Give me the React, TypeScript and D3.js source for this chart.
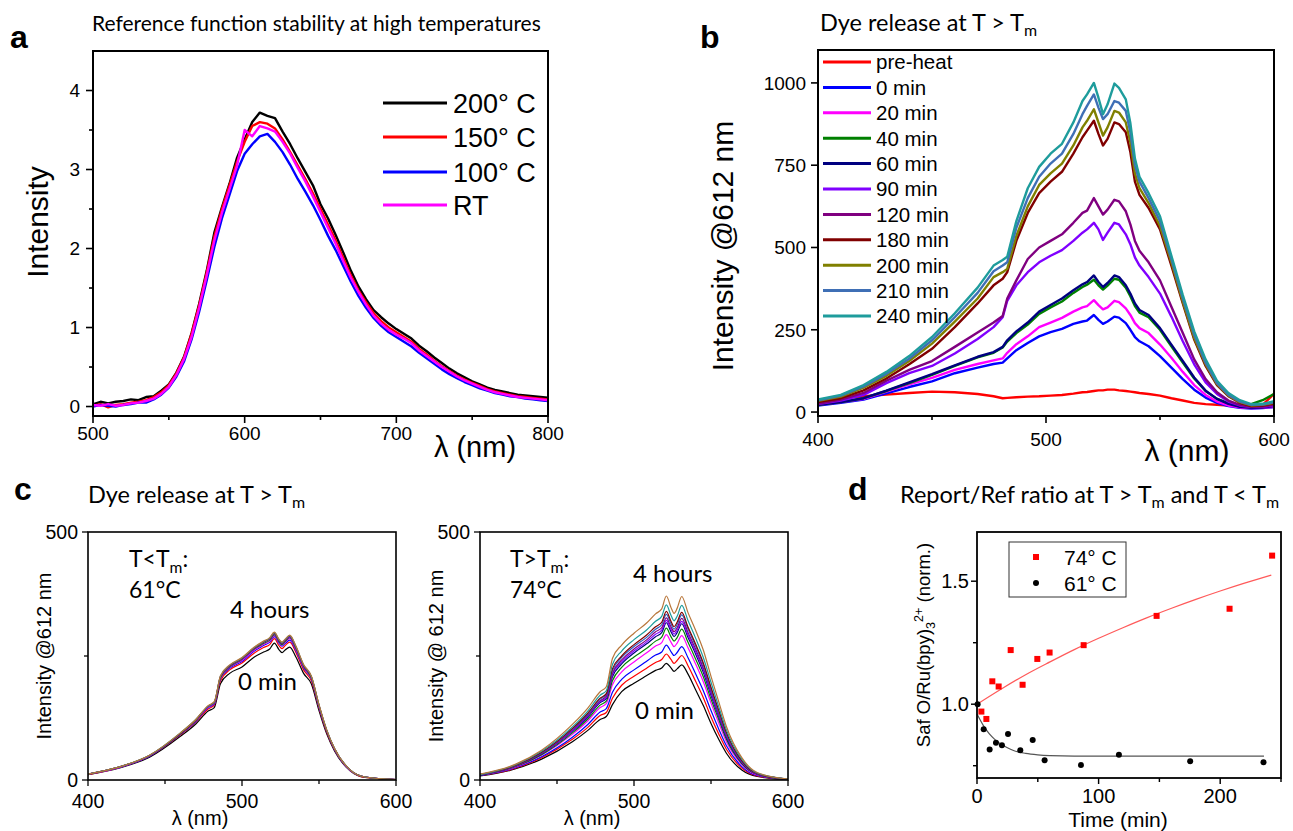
import React from "react";
import * as d3 from "d3";

const SANS = "'Liberation Sans', Arial, Helvetica, sans-serif";
const CAL = "Lato, 'Open Sans', 'DejaVu Sans', sans-serif";

// ---------------- Panel a data ----------------
const A_WL = [500,505,510,515,520,525,530,535,540,545,550,555,560,565,570,575,580,585,590,595,600,605,610,615,620,625,630,635,640,645,650,655,660,665,670,675,680,685,690,695,700,705,710,715,720,725,730,735,740,745,750,755,760,765,770,775,780,785,790,795,800];
const A_200C = [0.03,0.06,0.04,0.06,0.07,0.09,0.08,0.12,0.13,0.2,0.28,0.43,0.63,0.93,1.3,1.72,2.2,2.52,2.82,3.15,3.38,3.6,3.72,3.68,3.65,3.48,3.32,3.14,2.97,2.8,2.56,2.38,2.17,1.95,1.72,1.52,1.36,1.22,1.13,1.05,0.98,0.92,0.86,0.77,0.7,0.62,0.55,0.48,0.42,0.37,0.32,0.28,0.24,0.21,0.19,0.17,0.15,0.14,0.13,0.12,0.11];
const A_150C = [0.01,0.03,-0.01,0.02,0.03,0.05,0.06,0.08,0.12,0.18,0.27,0.42,0.62,0.92,1.28,1.7,2.15,2.5,2.8,3.1,3.35,3.55,3.6,3.58,3.52,3.38,3.22,3.05,2.88,2.7,2.5,2.3,2.1,1.88,1.66,1.47,1.32,1.18,1.08,1.0,0.94,0.88,0.82,0.73,0.66,0.58,0.51,0.45,0.39,0.34,0.3,0.26,0.22,0.19,0.17,0.15,0.13,0.12,0.11,0.1,0.09];
const A_100C = [0.0,0.02,0.01,0.0,0.02,0.03,0.05,0.05,0.09,0.15,0.24,0.38,0.57,0.85,1.2,1.6,2.02,2.38,2.68,2.98,3.2,3.32,3.42,3.45,3.35,3.22,3.06,2.88,2.72,2.55,2.36,2.16,1.98,1.78,1.58,1.4,1.25,1.12,1.02,0.94,0.88,0.82,0.76,0.68,0.61,0.54,0.47,0.41,0.36,0.31,0.27,0.23,0.2,0.17,0.15,0.13,0.12,0.1,0.09,0.08,0.07];
const A_RT = [0.02,0.01,0.03,0.01,0.02,0.04,0.05,0.07,0.1,0.16,0.25,0.4,0.6,0.88,1.25,1.66,2.1,2.45,2.75,3.05,3.5,3.42,3.55,3.52,3.48,3.35,3.2,3.02,2.85,2.66,2.46,2.26,2.06,1.84,1.63,1.45,1.29,1.15,1.05,0.97,0.91,0.86,0.8,0.71,0.64,0.57,0.5,0.44,0.38,0.33,0.29,0.25,0.21,0.18,0.16,0.14,0.12,0.11,0.1,0.09,0.08];
const A_NAMES = ["200° C", "150° C", "100° C", "RT"];
const A_COLORS = ["#000000", "#ff0000", "#0000ff", "#ff00ff"];
const A_XTICKS = [500, 600, 700, 800];
const A_XMINOR = [550, 650, 750];
const A_YTICKS = [0, 1, 2, 3, 4];
const A_YMINOR = [0.5, 1.5, 2.5, 3.5];

// ---------------- Panel b data ----------------
const B_WL = [400,410,420,430,440,450,460,470,477,481,483,487,492,497,502,507,512,516,518,521,523,525,527,530,532,535,537,539,541,545,550,555,560,565,570,575,580,585,590,595,600];
const B_PRE = [35,42,48,53,58,62,60,55,48,42,43,45,47,48,50,52,56,60,61,64,66,66,68,68,66,64,62,60,58,55,50,42,35,28,24,22,20,18,17,22,55];
const B_0 = [20,28,38,57,76,93,118,135,146,150,163,188,210,230,243,253,268,275,278,295,280,268,275,290,287,270,250,228,215,200,170,135,100,68,44,28,18,13,11,12,15];
const B_20 = [22,30,40,62,84,104,128,146,157,163,180,206,230,258,272,286,305,318,322,340,325,312,318,338,334,315,295,270,255,240,205,165,122,82,52,32,20,14,12,13,16];
const B_40 = [22,30,42,64,88,113,140,166,180,196,214,240,266,298,318,336,362,380,387,402,385,372,384,405,402,378,352,322,302,288,250,200,150,102,64,40,27,22,24,36,55];
const B_60 = [22,30,42,65,90,115,142,168,182,198,218,245,272,305,325,345,370,388,395,415,395,380,392,415,410,385,360,330,310,295,255,205,155,105,65,40,25,16,13,14,18];
const B_90 = [24,35,52,88,118,140,178,222,258,288,338,385,425,455,475,492,520,545,555,575,555,523,545,575,570,540,510,470,445,410,360,290,215,145,90,55,32,20,15,16,20];
const B_120 = [25,38,58,95,128,155,198,242,272,292,345,400,465,500,520,540,575,605,612,650,625,600,615,645,640,610,570,520,490,455,400,320,240,160,100,60,35,22,16,17,22];
const B_180 = [30,42,66,102,145,192,258,330,385,405,425,520,605,665,700,730,785,835,855,885,845,810,830,880,875,850,790,700,660,620,555,445,330,220,140,82,48,28,18,20,26];
const B_200 = [34,47,74,110,155,208,275,345,410,425,435,535,625,690,725,755,810,865,885,920,880,840,865,915,910,880,820,725,680,635,565,455,335,225,145,85,50,30,20,22,28];
const B_210 = [36,50,78,116,162,218,288,362,428,445,455,560,650,715,755,785,845,905,930,965,925,890,905,945,940,915,850,750,700,650,580,465,345,235,150,88,52,32,22,23,30];
const B_240 = [38,52,82,122,170,228,300,378,445,462,472,580,680,745,785,815,880,945,965,1000,955,905,935,998,985,950,878,770,715,665,595,475,355,245,160,95,58,36,24,25,33];
const B_NAMES = ["pre-heat", "0 min", "20 min", "40 min", "60 min", "90 min", "120 min", "180 min", "200 min", "210 min", "240 min"];
const B_COLORS = ["#ff0000", "#0000ff", "#ff00ff", "#008000", "#000080", "#8000ff", "#800080", "#800000", "#808000", "#3f6fb5", "#1e9c9c"];
const B_XTICKS = [400, 500, 600];
const B_XMINOR = [450, 550];
const B_YTICKS = [0, 250, 500, 750, 1000];

// ---------------- Panel c data ----------------
const C_WL = [400,420,440,460,470,478,482,486,492,500,508,514,518,521,524,526,528,531,535,540,545,550,555,560,570,580,600];
// c (right) T > Tm, 74 °C
const CR_0 = [8,20,42,77,100,122,128,152,178,195,210,221,226,235,226,219,224,232,214,182,150,114,82,54,20,7,1];
const CR_1 = [9,21,45,82,106,130,136,165,191,209,225,237,243,254,243,235,241,251,231,199,166,127,93,62,24,8,1];
const CR_2 = [9,22,47,86,112,137,144,177,203,222,239,252,258,272,259,251,257,269,247,214,180,140,103,69,27,9,1];
const CR_3 = [10,23,50,92,119,146,154,192,218,238,256,270,277,293,278,269,276,291,267,234,198,155,115,77,31,10,1];
const CR_4 = [10,24,51,95,123,151,159,200,227,248,265,280,288,306,289,280,287,304,278,244,208,163,122,82,33,11,1];
const CR_5 = [10,25,53,98,127,156,164,208,234,256,274,289,297,317,299,289,297,315,288,254,217,171,128,86,35,12,2];
const CR_6 = [11,25,54,99,129,158,166,212,238,260,278,294,302,322,304,294,302,320,293,259,222,175,131,89,36,12,2];
const CR_7 = [11,25,54,101,131,160,169,215,242,264,282,299,307,327,309,299,307,326,298,264,226,179,134,91,37,12,2];
const CR_8 = [11,26,55,103,133,163,172,220,247,269,287,304,313,334,315,304,313,333,305,270,232,183,137,93,38,13,2];
const CR_9 = [11,26,56,104,135,165,174,224,250,273,292,309,318,340,320,309,318,338,309,274,236,187,141,96,39,13,2];
const CR_10 = [11,27,58,107,139,171,180,233,260,283,302,320,330,353,332,321,330,352,322,286,247,197,148,101,42,14,2];
const CR_11 = [12,28,60,112,145,178,188,245,272,296,316,335,345,371,348,336,346,370,338,302,262,209,158,108,45,15,2];
const CR_COLORS = ["#000000", "#ff0000", "#0000ff", "#ff00ff", "#008000", "#000080", "#8000ff", "#800080", "#2f5fc0", "#800000", "#1e9c9c", "#b8763a"];
// c (left) T < Tm, 61 °C
const CL_0 = [11,24,46,88,113,139,146,194,215,228,248,258,264,276,263,257,262,268,248,215,194,140,93,59,19,5,1];
const CL_1 = [11,25,48,91,117,143,151,200,222,236,256,267,273,285,271,265,271,278,257,222,200,145,96,61,20,5,1];
const CL_2 = [12,25,48,92,118,146,153,204,225,239,260,271,278,289,276,270,275,282,261,226,204,147,98,62,20,6,1];
const CL_3 = [12,25,49,93,119,147,154,205,227,241,262,273,280,291,278,272,277,285,263,228,205,148,99,63,20,6,1];
const CL_4 = [12,26,49,93,120,148,155,206,228,243,264,275,282,293,279,273,279,287,265,229,206,149,99,63,21,6,1];
const CL_5 = [12,26,49,94,121,148,156,208,229,244,265,277,284,295,281,275,281,288,267,230,208,150,100,63,21,6,1];
const CL_6 = [12,26,50,94,121,149,157,208,230,245,266,278,285,296,282,276,282,290,268,231,208,151,100,64,21,6,1];
const CL_7 = [12,26,50,95,122,149,157,209,231,246,267,279,286,297,283,277,283,291,269,232,209,151,101,64,21,6,1];
const CL_8 = [12,26,50,95,122,150,158,210,232,247,268,280,287,298,284,278,284,292,270,233,210,152,101,64,21,6,1];
const CL_COLORS = ["#000000", "#ff0000", "#0000ff", "#ff00ff", "#008000", "#8000ff", "#800000", "#1e9c9c", "#b8763a"];
const C_XTICKS = [400, 500, 600];
const C_XMINOR = [450, 550];
const C_YTICKS = [0, 500];
const C_YMINOR = [250];

// ---------------- Panel d data ----------------
const D74_T = [3.6, 7.7, 12.6, 17.8, 27.7, 37.5, 49.6, 59.7, 87.7, 147.7, 207.7, 242.7];
const D74_R = [0.97, 0.94, 1.093, 1.072, 1.22, 1.079, 1.184, 1.21, 1.24, 1.359, 1.388, 1.604];
const D61_T = [0.5, 5.5, 10.4, 15.6, 20.5, 25.5, 35.6, 45.8, 55.6, 85.5, 116.7, 175.3, 235.6];
const D61_R = [1.0, 0.898, 0.816, 0.843, 0.833, 0.879, 0.813, 0.854, 0.772, 0.753, 0.795, 0.768, 0.764];
const FIT74_T = [0, 20, 40, 60, 80, 100, 120, 140, 160, 180, 200, 220, 242];
const FIT74_R = [1.0, 1.062, 1.12, 1.172, 1.222, 1.268, 1.311, 1.352, 1.39, 1.426, 1.46, 1.492, 1.525];
const FIT61_T = [0, 5, 10, 15, 20, 25, 30, 40, 50, 60, 80, 100, 150, 200, 236];
const FIT61_R = [0.96, 0.915, 0.88, 0.855, 0.837, 0.823, 0.812, 0.8, 0.794, 0.791, 0.789, 0.789, 0.789, 0.789, 0.789];
const D_XTICKS = [0, 100, 200];
const D_XMINOR = [50, 150, 250];
const D_YTICKS = [1.0, 1.5];
const D_YMINOR = [0.75, 1.25];

type Lin = d3.ScaleLinear<number, number>;

function Axes(p: {
  x: Lin; y: Lin; xTicks: number[]; xMinor: number[]; yTicks: number[]; yMinor: number[];
  xFmt: (v: number) => string; yFmt: (v: number) => string; fs: number;
  xLabY: number; yLabGap: number; major: number; minor: number; sw: number;
}) {
  const [x0, x1] = p.x.range();
  const [y0, y1] = p.y.range();
  return (
    <g fontFamily={SANS} fontSize={p.fs} fill="#000">
      <rect x={x0} y={y1} width={x1 - x0} height={y0 - y1} fill="none" stroke="#000" strokeWidth={p.sw} />
      {p.xTicks.map((t) => (
        <g key={"xt" + t}>
          <line x1={p.x(t)} x2={p.x(t)} y1={y0} y2={y0 + p.major} stroke="#000" strokeWidth={p.sw * 0.8} />
          <text x={p.x(t)} y={p.xLabY} textAnchor="middle">{p.xFmt(t)}</text>
        </g>
      ))}
      {p.xMinor.map((t) => (
        <line key={"xm" + t} x1={p.x(t)} x2={p.x(t)} y1={y0} y2={y0 + p.minor} stroke="#000" strokeWidth={p.sw * 0.8} />
      ))}
      {p.yTicks.map((t) => (
        <g key={"yt" + t}>
          <line x1={x0 - p.major} x2={x0} y1={p.y(t)} y2={p.y(t)} stroke="#000" strokeWidth={p.sw * 0.8} />
          <text x={x0 - p.yLabGap} y={p.y(t)} dy="0.36em" textAnchor="end">{p.yFmt(t)}</text>
        </g>
      ))}
      {p.yMinor.map((t) => (
        <line key={"ym" + t} x1={x0 - p.minor} x2={x0} y1={p.y(t)} y2={p.y(t)} stroke="#000" strokeWidth={p.sw * 0.8} />
      ))}
    </g>
  );
}

function path(xs: number[], ys: number[], x: Lin, y: Lin, curve: d3.CurveFactory) {
  const n = Math.min(xs.length, ys.length);
  const pts: [number, number][] = [];
  for (let i = 0; i < n; i++) pts.push([x(xs[i]), y(ys[i])]);
  return d3.line().curve(curve)(pts) || "";
}

function PanelA() {
  const x = d3.scaleLinear().domain([500, 800]).range([93, 548]);
  const y = d3.scaleLinear().domain([-0.12, 4.5]).range([416, 51]);
  const series = [A_200C, A_150C, A_100C, A_RT];
  const legY = [103, 137, 172, 205];
  return (
    <g>
      <defs>
        <clipPath id="clipA"><rect x={93} y={51} width={455} height={365} /></clipPath>
      </defs>
      <g clipPath="url(#clipA)">
        {series.map((s, i) => (
          <path key={i} d={path(A_WL, s, x, y, d3.curveLinear)} fill="none" stroke={A_COLORS[i]} strokeWidth={2.4} strokeLinejoin="round" />
        ))}
      </g>
      <Axes x={x} y={y} xTicks={A_XTICKS} xMinor={A_XMINOR} yTicks={A_YTICKS} yMinor={A_YMINOR}
        xFmt={(v) => String(v)} yFmt={(v) => String(v)} fs={19} xLabY={440} yLabGap={13} major={7} minor={4} sw={2} />
      {A_NAMES.map((n, i) => (
        <g key={n}>
          <line x1={383} x2={447} y1={legY[i]} y2={legY[i]} stroke={A_COLORS[i]} strokeWidth={3} />
          <text x={453} y={legY[i]} dy="0.36em" fontFamily={SANS} fontSize={27}>{n}</text>
        </g>
      ))}
      <text transform="translate(37,222) rotate(-90)" textAnchor="middle" dy="0.36em" fontFamily={SANS} fontSize={30}>Intensity</text>
      <text x={475} y={457} textAnchor="middle" fontFamily={SANS} fontSize={29}>λ (nm)</text>
      <text x={92} y={31} fontFamily={CAL} fontSize={21}>Reference function stability at high temperatures</text>
      <text x={10} y={48} fontFamily={SANS} fontWeight="bold" fontSize={32}>a</text>
    </g>
  );
}

function PanelB() {
  const x = d3.scaleLinear().domain([400, 600]).range([818, 1274]);
  const y = d3.scaleLinear().domain([-12, 1100]).range([416, 50]);
  const series = [B_PRE, B_0, B_20, B_40, B_60, B_90, B_120, B_180, B_200, B_210, B_240];
  return (
    <g>
      <defs>
        <clipPath id="clipB"><rect x={818} y={50} width={456} height={366} /></clipPath>
      </defs>
      <g clipPath="url(#clipB)">
        {series.map((s, i) => (
          <path key={i} d={path(B_WL, s, x, y, d3.curveLinear)} fill="none" stroke={B_COLORS[i]} strokeWidth={2.4} strokeLinejoin="round" />
        ))}
      </g>
      <Axes x={x} y={y} xTicks={B_XTICKS} xMinor={B_XMINOR} yTicks={B_YTICKS} yMinor={[]}
        xFmt={(v) => String(v)} yFmt={(v) => String(v)} fs={19} xLabY={446} yLabGap={12} major={7} minor={4} sw={2} />
      {B_NAMES.map((n, i) => {
        const yy = 62 + i * 25.4;
        return (
          <g key={n}>
            <line x1={823} x2={871} y1={yy} y2={yy} stroke={B_COLORS[i]} strokeWidth={3} />
            <text x={876} y={yy} dy="0.36em" fontFamily={SANS} fontSize={20.5}>{n}</text>
          </g>
        );
      })}
      <text transform="translate(722,246) rotate(-90)" textAnchor="middle" dy="0.36em" fontFamily={SANS} fontSize={30}>Intensity @612 nm</text>
      <text x={1187} y={461} textAnchor="middle" fontFamily={SANS} fontSize={30}>λ (nm)</text>
      <text x={820} y={31} fontFamily={CAL} fontSize={23.5}>Dye release at T &gt; T<tspan dy={5} fontSize="0.68em">m</tspan></text>
      <text x={700} y={48} fontFamily={SANS} fontWeight="bold" fontSize={32}>b</text>
    </g>
  );
}

function SpecPanel(p: { x0: number; id: string; series: number[][]; colors: string[]; yLab: string; yLabX: number;
  condOp: string; temp: string; hx: number; hy: number; mx: number; my: number; tx: number; ty: number }) {
  const x = d3.scaleLinear().domain([400, 600]).range([p.x0, p.x0 + 308]);
  const y = d3.scaleLinear().domain([0, 500]).range([780, 532]);
  return (
    <g>
      <defs>
        <clipPath id={p.id}><rect x={p.x0} y={532} width={308} height={248} /></clipPath>
      </defs>
      <g clipPath={`url(#${p.id})`}>
        {p.series.map((s, i) => (
          <path key={i} d={path(C_WL, s, x, y, d3.curveMonotoneX)} fill="none" stroke={p.colors[i]} strokeWidth={1.2} />
        ))}
      </g>
      <Axes x={x} y={y} xTicks={C_XTICKS} xMinor={C_XMINOR} yTicks={C_YTICKS} yMinor={C_YMINOR}
        xFmt={(v) => String(v)} yFmt={(v) => String(v)} fs={19.5} xLabY={808} yLabGap={10} major={6} minor={4} sw={1.6} />
      <text transform={`translate(${p.yLabX},656) rotate(-90)`} textAnchor="middle" dy="0.36em" fontFamily={SANS} fontSize={20}>{p.yLab}</text>
      <text x={p.x0 + 112} y={825} textAnchor="middle" fontFamily={SANS} fontSize={20}>λ (nm)</text>
      <text x={p.tx} y={p.ty} fontFamily={CAL} fontSize={23}>
        T{p.condOp}T<tspan dy={6} fontSize="0.68em">m</tspan><tspan dy={-6}>:</tspan>
      </text>
      <text x={p.tx} y={p.ty + 31} fontFamily={CAL} fontSize={23}>{p.temp}</text>
      <text x={p.hx} y={p.hy} fontFamily={CAL} fontSize={24}>4 hours</text>
      <text x={p.mx} y={p.my} fontFamily={CAL} fontSize={24}>0 min</text>
    </g>
  );
}

function PanelD() {
  const x = d3.scaleLinear().domain([0, 250]).range([977, 1281]);
  const y = d3.scaleLinear().domain([0.7, 1.7]).range([778, 532]);
  return (
    <g>
      <path d={path(FIT74_T, FIT74_R, x, y, d3.curveMonotoneX)} fill="none" stroke="#ff5a5a" strokeWidth={1.2} />
      <path d={path(FIT61_T, FIT61_R, x, y, d3.curveMonotoneX)} fill="none" stroke="#555" strokeWidth={1.2} />
      {D74_T.map((t, i) => (
        <rect key={"r" + i} x={x(t) - 3} y={y(D74_R[i]) - 3} width={6} height={6} fill="#ff0000" />
      ))}
      {D61_T.map((t, i) => (
        <circle key={"c" + i} cx={x(t)} cy={y(D61_R[i])} r={3} fill="#000" />
      ))}
      <Axes x={x} y={y} xTicks={D_XTICKS} xMinor={D_XMINOR} yTicks={D_YTICKS} yMinor={D_YMINOR}
        xFmt={(v) => String(v)} yFmt={(v) => v.toFixed(1)} fs={20} xLabY={803} yLabGap={8} major={6} minor={4} sw={1.8} />
      <rect x={1009} y={542} width={117} height={55} fill="#fff" stroke="#333" strokeWidth={1} />
      <rect x={1033} y={554} width={6} height={6} fill="#ff0000" />
      <text x={1064} y={557} dy="0.36em" fontFamily={SANS} fontSize={21}>74° C</text>
      <circle cx={1036} cy={583} r={3} fill="#000" />
      <text x={1064} y={583} dy="0.36em" fontFamily={SANS} fontSize={21}>61° C</text>
      <text transform="translate(923,645) rotate(-90)" textAnchor="middle" dy="0.36em" fontFamily={SANS} fontSize={18.5}>
        Saf O/Ru(bpy)<tspan dy={5} fontSize="0.68em">3</tspan><tspan dy={-12} fontSize="0.68em">2+</tspan><tspan dy={7}> (norm.)</tspan>
      </text>
      <text x={1118} y={827} textAnchor="middle" fontFamily={SANS} fontSize={21}>Time (min)</text>
      <text x={900} y={503} fontFamily={CAL} fontSize={23.5}>
        Report/Ref ratio at T &gt; T<tspan dy={5} fontSize="0.68em">m</tspan><tspan dy={-5}> and T &lt; T</tspan><tspan dy={5} fontSize="0.68em">m</tspan>
      </text>
      <text x={848} y={500} fontFamily={SANS} fontWeight="bold" fontSize={32}>d</text>
    </g>
  );
}

export default function App() {
  return (
    <svg width={1293} height={831} viewBox="0 0 1293 831" style={{ position: "absolute", left: 0, top: 0, background: "#fff" }}>
      <rect x={0} y={0} width={1293} height={831} fill="#fff" />
      <PanelA />
      <PanelB />
      <SpecPanel x0={88} id="clipCL" series={[CL_0, CL_1, CL_2, CL_3, CL_4, CL_5, CL_6, CL_7, CL_8]} colors={CL_COLORS}
        yLab="Intensity @612 nm" yLabX={44} condOp="<" temp="61°C" tx={129} ty={567}
        hx={230} hy={618} mx={238} my={690} />
      <SpecPanel x0={480} id="clipCR" series={[CR_0, CR_1, CR_2, CR_3, CR_4, CR_5, CR_6, CR_7, CR_8, CR_9, CR_10, CR_11]} colors={CR_COLORS}
        yLab="Intensity @ 612 nm" yLabX={436} condOp=">" temp="74°C" tx={510} ty={567}
        hx={633} hy={582} mx={635} my={719} />
      <text x={88} y={503} fontFamily={CAL} fontSize={23.5}>Dye release at T &gt; T<tspan dy={5} fontSize="0.68em">m</tspan></text>
      <text x={14} y={500} fontFamily={SANS} fontWeight="bold" fontSize={32}>c</text>
      <PanelD />
    </svg>
  );
}
